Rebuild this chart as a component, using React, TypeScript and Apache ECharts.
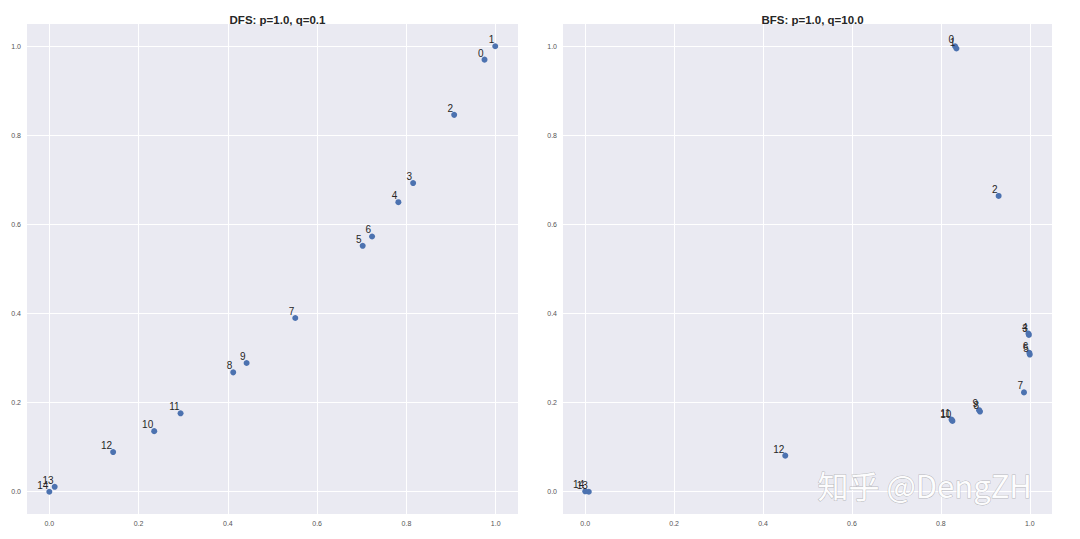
import React, { useEffect, useRef } from "react";
import * as echarts from "echarts";

// ---- data ----
const nodeLabels = ["0", "1", "2", "3", "4", "5", "6", "7", "8", "9", "10", "11", "12", "13", "14"];
const titles = ["DFS: p=1.0, q=0.1", "BFS: p=1.0, q=10.0"];
const tickValues = [0, 0.2, 0.4, 0.6, 0.8, 1.0];

const dfsX = [0.975, 0.999, 0.907, 0.815, 0.782, 0.702, 0.723, 0.551, 0.412, 0.442, 0.235, 0.294, 0.143, 0.012, 0.0];
const dfsY = [0.970, 1.0, 0.846, 0.693, 0.65, 0.552, 0.573, 0.39, 0.268, 0.289, 0.136, 0.176, 0.089, 0.011, 0.0];

const bfsX = [0.832, 0.835, 0.93, 0.998, 0.997, 1.0, 0.999, 0.987, 0.888, 0.886, 0.826, 0.824, 0.45, 0.008, 0.0];
const bfsY = [1.0, 0.995, 0.664, 0.352, 0.355, 0.308, 0.312, 0.223, 0.18, 0.183, 0.159, 0.162, 0.081, 0.0, 0.001];

const watermark = "知乎 @DengZH";

const FONT = "'Liberation Sans', Arial, sans-serif";
const BG = "#EAEAF2";
const POINT = "#4C72B0";

function makeAxis(gridIndex: number) {
  return {
    type: "value" as const,
    gridIndex,
    min: -0.05,
    max: 1.05,
    axisLine: { show: false },
    axisTick: { show: false, customValues: tickValues },
    axisLabel: {
      customValues: tickValues,
      formatter: (v: number) => v.toFixed(1),
      fontSize: 7,
      color: "#555555",
      fontFamily: FONT,
      margin: 6,
    },
    splitLine: { show: true, lineStyle: { color: "#ffffff", width: 1 } },
  };
}

function makeSeries(xs: number[], ys: number[], idx: number) {
  return {
    type: "scatter" as const,
    xAxisIndex: idx,
    yAxisIndex: idx,
    data: xs.map((x, i) => [x, ys[i]]),
    symbol: "circle",
    symbolSize: 6,
    itemStyle: { color: POINT, opacity: 1 },
    label: {
      show: true,
      formatter: (p: any) => nodeLabels[p.dataIndex],
      position: [2, 1.5],
      align: "right",
      verticalAlign: "bottom",
      fontSize: 10,
      color: "#262626",
      fontFamily: FONT,
    },
    emphasis: { disabled: true },
  };
}

export default function App() {
  const ref = useRef<HTMLDivElement>(null);
  useEffect(() => {
    if (!ref.current) return;
    const chart = echarts.init(ref.current, undefined, { renderer: "svg" });
    chart.setOption({
      animation: false,
      backgroundColor: "#ffffff",
      title: [
        {
          text: titles[0],
          left: 272.5,
          top: 9,
          textAlign: "center",
          textStyle: { fontFamily: FONT, fontWeight: "bold", fontSize: 11.5, color: "#262626" },
        },
        {
          text: titles[1],
          left: 807.5,
          top: 9,
          textAlign: "center",
          textStyle: { fontFamily: FONT, fontWeight: "bold", fontSize: 11.5, color: "#262626" },
        },
      ],
      grid: [
        { left: 27, right: 562, top: 24, bottom: 25, show: true, backgroundColor: BG, borderWidth: 0 },
        { left: 563, right: 28, top: 24, bottom: 25, show: true, backgroundColor: BG, borderWidth: 0 },
      ],
      xAxis: [makeAxis(0), makeAxis(1)],
      yAxis: [makeAxis(0), makeAxis(1)],
      series: [makeSeries(dfsX, dfsY, 0), makeSeries(bfsX, bfsY, 1)],
      graphic: [
        {
          type: "text",
          left: 817,
          top: 468,
          z: 100,
          style: {
            text: watermark,
            fontSize: 31,
            fontFamily: "'Noto Sans CJK SC', sans-serif",
            fill: "rgba(255,255,255,0.95)",
            stroke: "rgba(120,120,120,0.45)",
            lineWidth: 1,
            shadowColor: "rgba(0,0,0,0.35)",
            shadowBlur: 2,
            shadowOffsetX: 1.5,
            shadowOffsetY: 1.5,
          },
        },
      ],
    });
    return () => chart.dispose();
  }, []);
  return (
    <div
      ref={ref}
      style={{ position: "fixed", left: 0, top: 0, width: 1080, height: 539 }}
    />
  );
}
